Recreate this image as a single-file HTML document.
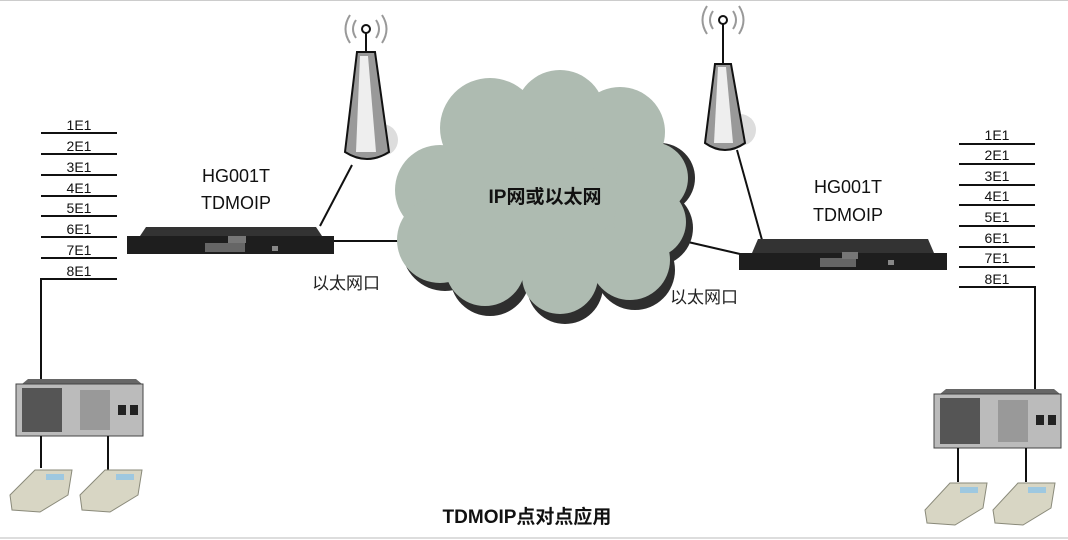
<!DOCTYPE html>
<html><head><meta charset="utf-8"><style>
body{margin:0;background:#fff}
svg{display:block}
text{font-family:"Liberation Sans","Noto Sans CJK SC",sans-serif}
</style></head><body>
<svg width="1068" height="540" viewBox="0 0 1068 540" xmlns="http://www.w3.org/2000/svg">
<line x1="0" y1="0.5" x2="1068" y2="0.5" stroke="#ccc"/>
<line x1="0" y1="538" x2="1068" y2="538" stroke="#ddd" stroke-width="2"/>

<g stroke="#111" stroke-width="2">
<line x1="41" y1="133" x2="117" y2="133"/><line x1="41" y1="154" x2="117" y2="154"/>
<line x1="41" y1="175" x2="117" y2="175"/><line x1="41" y1="196" x2="117" y2="196"/>
<line x1="41" y1="216" x2="117" y2="216"/><line x1="41" y1="237" x2="117" y2="237"/>
<line x1="41" y1="258" x2="117" y2="258"/>
<polyline points="117,279 41,279 41,385" fill="none"/>
</g>
<g font-size="14" text-anchor="middle" fill="#111">
<text x="79" y="130">1E1</text><text x="79" y="151">2E1</text><text x="79" y="172">3E1</text><text x="79" y="193">4E1</text>
<text x="79" y="213">5E1</text><text x="79" y="234">6E1</text><text x="79" y="255">7E1</text><text x="79" y="276">8E1</text>
</g>

<g stroke="#111" stroke-width="2">
<line x1="959" y1="144" x2="1035" y2="144"/><line x1="959" y1="164" x2="1035" y2="164"/>
<line x1="959" y1="185" x2="1035" y2="185"/><line x1="959" y1="205" x2="1035" y2="205"/>
<line x1="959" y1="226" x2="1035" y2="226"/><line x1="959" y1="247" x2="1035" y2="247"/>
<line x1="959" y1="267" x2="1035" y2="267"/>
<polyline points="959,287 1035,287 1035,392" fill="none"/>
</g>
<g font-size="14" text-anchor="middle" fill="#111">
<text x="997" y="140">1E1</text><text x="997" y="160">2E1</text><text x="997" y="181">3E1</text><text x="997" y="201">4E1</text>
<text x="997" y="222">5E1</text><text x="997" y="243">6E1</text><text x="997" y="263">7E1</text><text x="997" y="284">8E1</text>
</g>

<g stroke="#111" stroke-width="2">
<line x1="352" y1="165" x2="320" y2="226"/>
<line x1="333" y1="241" x2="410" y2="241"/>
<line x1="737" y1="150" x2="762" y2="240"/>
<line x1="662" y1="236" x2="740" y2="254"/>
</g>

<g fill="#2e2e2e" transform="translate(5,8)">
<ellipse cx="545" cy="205" rx="125" ry="80"/>
<circle cx="440" cy="240" r="43"/><circle cx="485" cy="268" r="40"/>
<circle cx="560" cy="278" r="38"/><circle cx="630" cy="262" r="40"/><circle cx="650" cy="220" r="38"/>
<circle cx="655" cy="170" r="35"/>
</g>
<g fill="#aebbb1">
<ellipse cx="545" cy="200" rx="125" ry="80"/>
<circle cx="490" cy="128" r="50"/><circle cx="560" cy="115" r="45"/><circle cx="620" cy="132" r="45"/>
<circle cx="652" cy="178" r="36"/><circle cx="440" cy="190" r="45"/><circle cx="440" cy="240" r="43"/>
<circle cx="485" cy="266" r="40"/><circle cx="560" cy="276" r="38"/><circle cx="630" cy="260" r="40"/>
<circle cx="650" cy="222" r="36"/>
</g>
<text x="545" y="203" font-size="19" font-weight="bold" text-anchor="middle" fill="#111">IP网或以太网</text>

<g>
<circle cx="382" cy="140" r="16" fill="#ddd"/>
<path d="M357 52 L375 52 L389 152 Q367 166 345 152 Z" fill="#999" stroke="#111" stroke-width="2"/>
<path d="M360 56 L368 56 L376 152 L356 152 Z" fill="#eee"/>
<line x1="366" y1="32" x2="366" y2="52" stroke="#111" stroke-width="2"/>
<circle cx="366" cy="29" r="4" fill="#fff" stroke="#111" stroke-width="2"/>
<path d="M356 20 Q350 29 356 38 M376 20 Q382 29 376 38 M350 15 Q341 29 350 43 M382 15 Q391 29 382 43" fill="none" stroke="#999" stroke-width="2"/>
</g>
<g>
<circle cx="740" cy="130" r="16" fill="#ddd"/>
<path d="M715 64 L731 64 L745 143 Q725 157 705 143 Z" fill="#999" stroke="#111" stroke-width="2"/>
<path d="M718 67 L726 67 L733 143 L714 143 Z" fill="#eee"/>
<line x1="723" y1="24" x2="723" y2="64" stroke="#111" stroke-width="2"/>
<circle cx="723" cy="20" r="4" fill="#fff" stroke="#111" stroke-width="2"/>
<path d="M713 11 Q707 20 713 29 M733 11 Q739 20 733 29 M707 6 Q698 20 707 34 M739 6 Q748 20 739 34" fill="none" stroke="#999" stroke-width="2"/>
</g>

<g>
<rect x="127" y="236" width="207" height="18" fill="#1e1e1e"/>
<path d="M140 236 L146 227 L316 227 L322 236 Z" fill="#333"/>
<rect x="205" y="243" width="40" height="9" fill="#666"/>
<rect x="228" y="236" width="18" height="7" fill="#777"/>
<rect x="272" y="246" width="6" height="5" fill="#888"/>
</g>
<g>
<rect x="739" y="253" width="208" height="17" fill="#1e1e1e"/>
<path d="M752 253 L758 239 L928 239 L934 253 Z" fill="#333"/>
<rect x="820" y="258" width="36" height="9" fill="#666"/>
<rect x="842" y="252" width="16" height="7" fill="#777"/>
<rect x="888" y="260" width="6" height="5" fill="#888"/>
</g>

<g font-size="18" text-anchor="middle" fill="#111">
<text x="236" y="182">HG001T</text><text x="236" y="209">TDMOIP</text>
<text x="848" y="193">HG001T</text><text x="848" y="221">TDMOIP</text>
</g>
<g font-size="17" fill="#222">
<text x="312" y="289">以太网口</text>
<text x="670" y="303">以太网口</text>
</g>

<g>
<path d="M22 384 L28 379 L136 379 L142 384 Z" fill="#666"/>
<rect x="16" y="384" width="127" height="52" fill="#bbb" stroke="#444"/>
<rect x="22" y="388" width="40" height="44" fill="#555"/>
<rect x="80" y="390" width="30" height="40" fill="#999"/>
<rect x="118" y="405" width="8" height="10" fill="#222"/><rect x="130" y="405" width="8" height="10" fill="#222"/>
</g>
<g stroke="#111" stroke-width="2"><line x1="41" y1="436" x2="41" y2="468"/><line x1="108" y1="436" x2="108" y2="470"/></g>
<g>
<path d="M940 394 L946 389 L1054 389 L1060 394 Z" fill="#666"/>
<rect x="934" y="394" width="127" height="54" fill="#bbb" stroke="#444"/>
<rect x="940" y="398" width="40" height="46" fill="#555"/>
<rect x="998" y="400" width="30" height="42" fill="#999"/>
<rect x="1036" y="415" width="8" height="10" fill="#222"/><rect x="1048" y="415" width="8" height="10" fill="#222"/>
</g>
<g stroke="#111" stroke-width="2"><line x1="958" y1="448" x2="958" y2="482"/><line x1="1026" y1="448" x2="1026" y2="482"/></g>

<g fill="#d8d6c4" stroke="#8a8a7a">
<path d="M10 495 L35 470 L72 470 L68 495 L40 512 L12 510 Z"/>
<path d="M80 495 L105 470 L142 470 L138 495 L110 512 L82 510 Z"/>
<path d="M925 510 L950 483 L987 483 L983 508 L955 525 L927 523 Z"/>
<path d="M993 510 L1018 483 L1055 483 L1051 508 L1023 525 L995 523 Z"/>
</g>
<g fill="#9ec8e0"><rect x="46" y="474" width="18" height="6"/><rect x="116" y="474" width="18" height="6"/><rect x="960" y="487" width="18" height="6"/><rect x="1028" y="487" width="18" height="6"/></g>

<text x="527" y="523" font-size="19" font-weight="bold" text-anchor="middle" fill="#111">TDMOIP点对点应用</text>
</svg>
</body></html>
